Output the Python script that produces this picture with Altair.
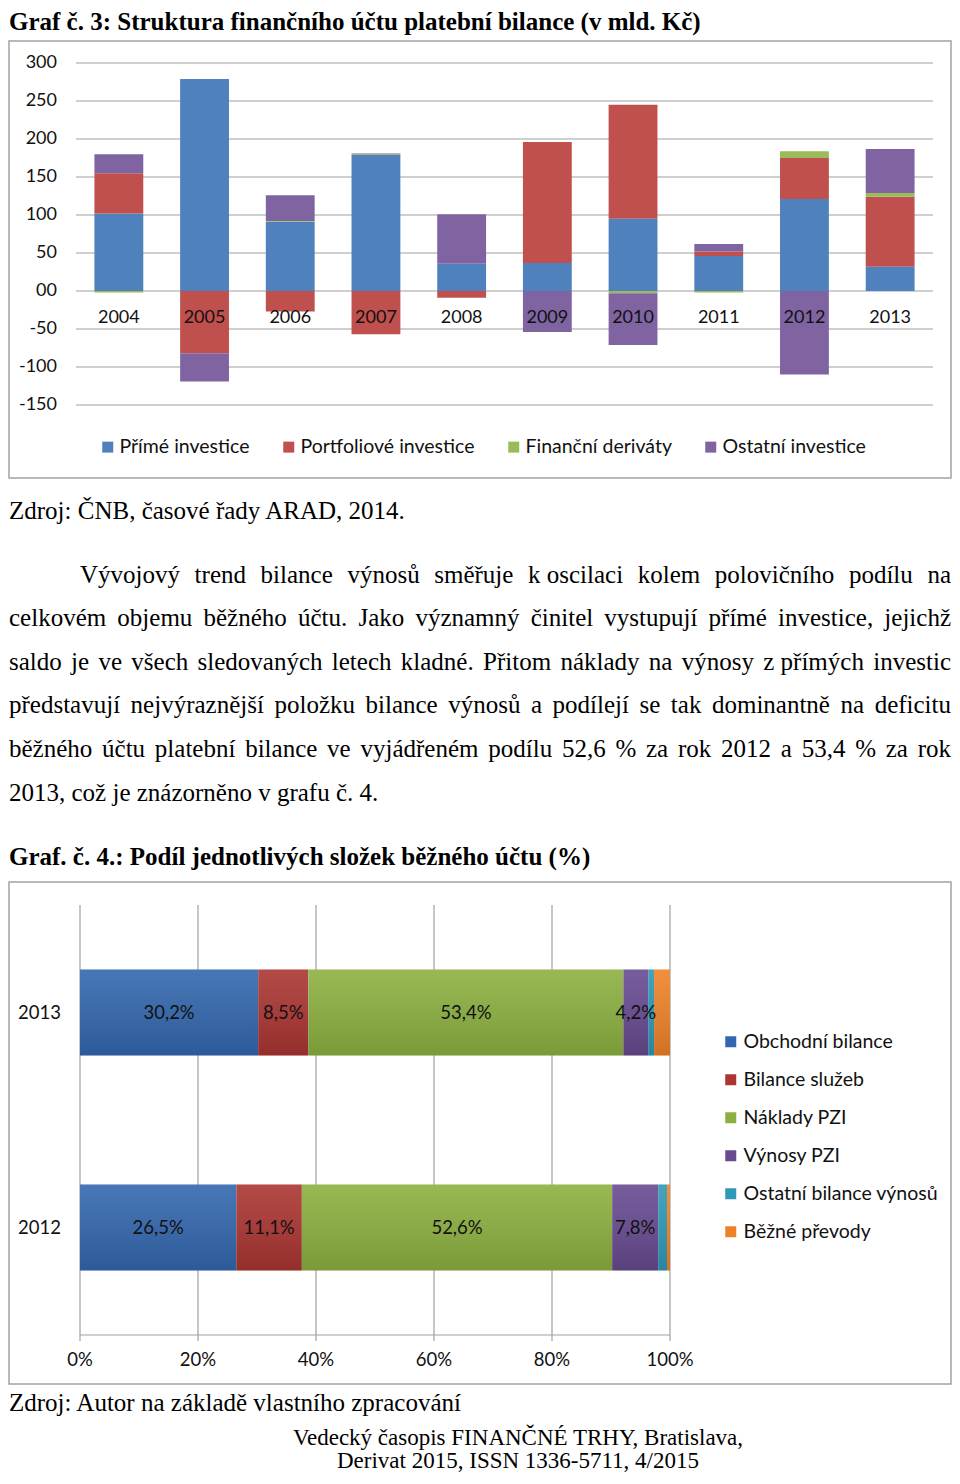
import unicodedata
import altair as alt
import pandas as pd

# ---------------- Chart 1 data (Graf č. 3) ----------------
years1 = ["2004", "2005", "2006", "2007", "2008", "2009", "2010", "2011", "2012", "2013"]
series1 = ["Přímé investice", "Portfoliové investice", "Finanční deriváty", "Ostatní investice"]
prime_inv = [102, 279, 91, 179, 36, 37, 95, 46, 121, 32]
portfolio_inv = [53, -82, -27, -57, -9, 159, 150, 6, 54, 92]
fin_deriv = [-2, 0, 1, 1, 0, 0, -3, -2, 9, 5]
other_inv = [25, -37, 34, 1, 65, -54, -68, 10, -110, 58]
colors1 = ["#4F81BD", "#C0504D", "#9BBB59", "#8064A2"]
yticks1 = [-150, -100, -50, 0, 50, 100, 150, 200, 250, 300]

# ---------------- Chart 2 data (Graf č. 4) ----------------
years2 = ["2013", "2012"]
series2 = ["Obchodní bilance", "Bilance služeb", "Náklady PZI", "Výnosy PZI",
           "Ostatní bilance výnosů", "Běžné převody"]
share_2013 = [30.2, 8.5, 53.4, 4.2, 1.0, 2.7]
share_2012 = [26.5, 11.1, 52.6, 7.8, 1.5, 0.5]
colors2 = ["#3367AE", "#AA3531", "#8CB040", "#674A90", "#2F98B6", "#EE8229"]
xticks2 = [0, 20, 40, 60, 80, 100]

# ---------------- Texts ----------------
title1 = "Graf č. 3: Struktura finančního účtu platební bilance (v mld. Kč)"
source1 = "Zdroj: ČNB, časové řady ARAD, 2014."
para_lines = [
    "Vývojový trend bilance výnosů směřuje k\u00a0oscilaci kolem polovičního podílu na",
    "celkovém objemu běžného účtu. Jako významný činitel vystupují přímé investice, jejichž",
    "saldo je ve všech sledovaných letech kladné. Přitom náklady na výnosy z\u00a0přímých investic",
    "představují nejvýraznější položku bilance výnosů a podílejí se tak dominantně na deficitu",
    "běžného účtu platební bilance ve vyjádřeném podílu 52,6 % za rok 2012 a 53,4 % za rok",
    "2013, což je znázorněno v grafu č. 4.",
]
title2 = "Graf. č. 4.: Podíl jednotlivých složek běžného účtu (%)"
source2 = "Zdroj: Autor na základě vlastního zpracování"
footer = ["Vedecký časopis FINANČNÉ TRHY, Bratislava,", "Derivat 2015, ISSN 1336-5711, 4/2015"]

SANS = "Lato"
SERIF = "Liberation Serif"
TXT = "#111111"
GRID = "#A0A0A0"
BOX = "#A3A3A3"
W = 942
BODY = 25

# Times / Liberation Serif advance widths (per 1000 em) for justification
TNR = {" ": 250, "\u00a0": 250, "%": 833, "(": 333, ")": 333, ",": 250, "-": 333, ".": 250,
       ":": 278, "/": 278}
for d in "0123456789":
    TNR[d] = 500
TNR.update(dict(zip("ABCDEFGHIJKLMNOPQRSTUVWXYZ",
                    [722, 667, 667, 722, 611, 556, 722, 722, 333, 389, 722, 611, 889, 722, 722,
                     556, 722, 667, 556, 611, 722, 722, 944, 722, 722, 611])))
TNR.update(dict(zip("abcdefghijklmnopqrstuvwxyz",
                    [444, 500, 444, 500, 444, 333, 500, 500, 278, 278, 500, 278, 778, 500, 500,
                     500, 500, 333, 389, 278, 500, 500, 722, 500, 500, 444])))


def text_width(s, size):
    tot = 0
    for ch in s:
        base = unicodedata.normalize("NFD", ch)[0]
        tot += TNR.get(base, 500)
    return tot * size / 1000.0


def justify(line, left, right, y, size):
    words = line.split(" ")
    widths = [text_width(w, size) for w in words]
    gap = (right - left - sum(widths)) / (len(words) - 1)
    out, x = [], left
    for i, (w, wd) in enumerate(zip(words, widths)):
        if i == len(words) - 1:
            out.append({"w": w, "x": right, "y": y, "a": "right"})
        else:
            out.append({"w": w, "x": x, "y": y, "a": "left"})
        x += wd + gap
    return out


# ================= Panel 1 : Graf č. 3 =================
rows1 = []
for i, yr in enumerate(years1):
    for k, vals in enumerate([prime_inv, portfolio_inv, fin_deriv, other_inv]):
        rows1.append({"year": yr, "series": series1[k], "k": k, "value": vals[i]})
df1 = pd.DataFrame(rows1)
ticks1_df = pd.DataFrame({"v": yticks1})
years1_df = pd.DataFrame({"year": years1, "zero": [0] * len(years1)})

xs1 = alt.Scale(domain=years1, range=[67, 924], paddingInner=0.43, paddingOuter=0.215)
ys1 = alt.Scale(domain=[-150, 300], range=[364, 22], nice=False, zero=False)

grid1 = alt.Chart(ticks1_df).mark_rule(color=GRID, strokeWidth=1.2).encode(
    y=alt.Y("v:Q", scale=ys1, axis=None), x=alt.value(67), x2=alt.value(924))

bars1 = alt.Chart(df1).mark_bar().encode(
    x=alt.X("year:N", scale=xs1, axis=None),
    y=alt.Y("value:Q", scale=ys1, axis=None, stack="zero"),
    color=alt.Color("series:N", scale=alt.Scale(domain=series1, range=colors1),
                    legend=alt.Legend(orient="none", legendX=89, legendY=396,
                                      direction="horizontal", columns=4, title=None,
                                      symbolType="square", symbolSize=121, symbolStrokeWidth=0,
                                      labelFont=SANS, labelFontSize=19.5, labelColor=TXT,
                                      labelOffset=2, columnPadding=29, labelLimit=400,
                                      padding=0)),
    order=alt.Order("k:Q"),
)

ylab1 = alt.Chart(ticks1_df).transform_calculate(
    lbl="datum.v == 0 ? '00' : '' + datum.v"
).mark_text(align="right", baseline="middle", font=SANS, fontSize=18, color=TXT).encode(
    y=alt.Y("v:Q", scale=ys1, axis=None), x=alt.value(48), text="lbl:N")

catlab1 = alt.Chart(years1_df).mark_text(baseline="middle", dy=27, font=SANS, fontSize=18,
                                         color=TXT).encode(
    x=alt.X("year:N", scale=xs1, axis=None), y=alt.Y("zero:Q", scale=ys1, axis=None), text="year:N")

title1_mark = alt.Chart(pd.DataFrame({"t": [title1]})).mark_text(
    align="left", baseline="middle", font=SERIF, fontSize=BODY, fontWeight="bold", color="black"
).encode(text="t:N", x=alt.value(0), y=alt.value(-19.5))

p1 = alt.layer(grid1, bars1, ylab1, catlab1, title1_mark).properties(
    width=W, height=437, view=alt.ViewBackground(stroke=BOX, strokeWidth=1.5))

# ================= Panel 2 : text =================
words = [{"w": source1, "x": 0, "y": 33, "a": "left"}]
line_y = [97, 140, 184, 227, 271]
for idx, (ln, yy) in enumerate(zip(para_lines[:5], line_y)):
    words += justify(ln, 71 if idx == 0 else 0, W, yy, BODY)
words.append({"w": para_lines[5], "x": 0, "y": 315, "a": "left"})
words_df = pd.DataFrame(words)

body_left = alt.Chart(words_df).transform_filter("datum.a == 'left'").mark_text(
    align="left", baseline="middle", font=SERIF, fontSize=BODY, color="black").encode(
    x=alt.X("x:Q", scale=None), y=alt.Y("y:Q", scale=None), text="w:N")
body_right = alt.Chart(words_df).transform_filter("datum.a == 'right'").mark_text(
    align="right", baseline="middle", font=SERIF, fontSize=BODY, color="black").encode(
    x=alt.X("x:Q", scale=None), y=alt.Y("y:Q", scale=None), text="w:N")
title2_mark = alt.Chart(pd.DataFrame({"t": [title2]})).mark_text(
    align="left", baseline="middle", font=SERIF, fontSize=BODY, fontWeight="bold", color="black"
).encode(text="t:N", x=alt.value(0), y=alt.value(379))
p2 = alt.layer(body_left, body_right, title2_mark).properties(width=W, height=404)

# ================= Panel 3 : Graf č. 4 =================
rows2 = []
for yr, vals in zip(years2, [share_2013, share_2012]):
    for k, v in enumerate(vals):
        rows2.append({"year": yr, "series": series2[k], "k": k, "share": v})
df2 = pd.DataFrame(rows2)
ticks2_df = pd.DataFrame({"v": xticks2})
years2_df = pd.DataFrame({"year": years2})

xs2 = alt.Scale(domain=[0, 100], range=[71, 661], nice=False, zero=False)
ys2 = alt.Scale(domain=years2, range=[23, 453], paddingInner=0.6, paddingOuter=0.3)

grid2 = alt.Chart(ticks2_df).mark_rule(color=GRID, strokeWidth=1.2).encode(
    x=alt.X("v:Q", scale=xs2, axis=None), y=alt.value(23), y2=alt.value(453))
axis2 = alt.Chart(pd.DataFrame({"a": [0]})).mark_rule(color=GRID, strokeWidth=1.2).encode(
    x=alt.value(71), x2=alt.value(661), y=alt.value(453))
tick2 = alt.Chart(ticks2_df).mark_rule(color=GRID, strokeWidth=1.2).encode(
    x=alt.X("v:Q", scale=xs2, axis=None), y=alt.value(453), y2=alt.value(459))

stacked = alt.Chart(df2).transform_stack(
    stack="share", groupby=["year"], as_=["s0", "s1"], sort=[alt.SortField("k", order="ascending")])

bars2 = stacked.mark_bar().encode(
    x=alt.X("s0:Q", scale=xs2, axis=None), x2="s1:Q",
    y=alt.Y("year:N", scale=ys2, axis=None),
    color=alt.Color("series:N", scale=alt.Scale(domain=series2, range=colors2),
                    legend=alt.Legend(orient="none", legendX=712, legendY=150,
                                      direction="vertical", title=None, symbolType="square",
                                      symbolSize=121, symbolStrokeWidth=0, labelFont=SANS,
                                      labelFontSize=19.5, labelColor=TXT, labelOffset=3,
                                      rowPadding=17, labelLimit=400, padding=0)),
)
shade2 = stacked.mark_bar(
    color=alt.LinearGradient(gradient="linear", x1=0, x2=0, y1=0, y2=1,
                             stops=[alt.GradientStop(offset=0, color="rgba(255,255,255,0.10)"),
                                    alt.GradientStop(offset=1, color="rgba(0,0,0,0.13)")])
).encode(x=alt.X("s0:Q", scale=xs2, axis=None), x2="s1:Q",
         y=alt.Y("year:N", scale=ys2, axis=None))

labels2 = stacked.transform_filter("datum.k < 4").transform_calculate(
    mid="(datum.s0 + datum.s1) / 2",
    lbl="replace(format(datum.share, '.1f'), '.', ',') + '%'",
).mark_text(baseline="middle", font=SANS, fontSize=18.5, color=TXT).encode(
    x=alt.X("mid:Q", scale=xs2, axis=None), y=alt.Y("year:N", scale=ys2, axis=None), text="lbl:N")

xlab2 = alt.Chart(ticks2_df).transform_calculate(lbl="datum.v + '%'").mark_text(
    baseline="middle", font=SANS, fontSize=18.5, color=TXT).encode(
    x=alt.X("v:Q", scale=xs2, axis=None), y=alt.value(478), text="lbl:N")
ylab2 = alt.Chart(years2_df).mark_text(align="right", baseline="middle", font=SANS, fontSize=18.5,
                                       color=TXT).encode(
    y=alt.Y("year:N", scale=ys2, axis=None), x=alt.value(52), text="year:N")

p3 = alt.layer(grid2, axis2, tick2, bars2, shade2, labels2, xlab2, ylab2).properties(
    width=W, height=502, view=alt.ViewBackground(stroke=BOX, strokeWidth=1.5))

# ================= Panel 4 : text =================
src2_mark = alt.Chart(pd.DataFrame({"t": [source2]})).mark_text(
    align="left", baseline="middle", font=SERIF, fontSize=BODY, color="black"
).encode(text="t:N", x=alt.value(0), y=alt.value(19))
foot_mark = alt.Chart(pd.DataFrame({"t": footer, "y": [54, 77]})).mark_text(
    align="center", baseline="middle", font=SERIF, fontSize=23, color="black"
).encode(text="t:N", x=alt.value(509), y=alt.Y("y:Q", scale=None))
p4 = alt.layer(src2_mark, foot_mark).properties(width=W, height=80)

chart = alt.vconcat(p1, p2, p3, p4, spacing=0, bounds="flush").resolve_scale(
    color="independent", x="independent", y="independent"
).resolve_legend(color="independent").properties(padding=0).configure_view(strokeWidth=0)

chart.save("out.html", embed_options={"renderer": "svg", "actions": False})
